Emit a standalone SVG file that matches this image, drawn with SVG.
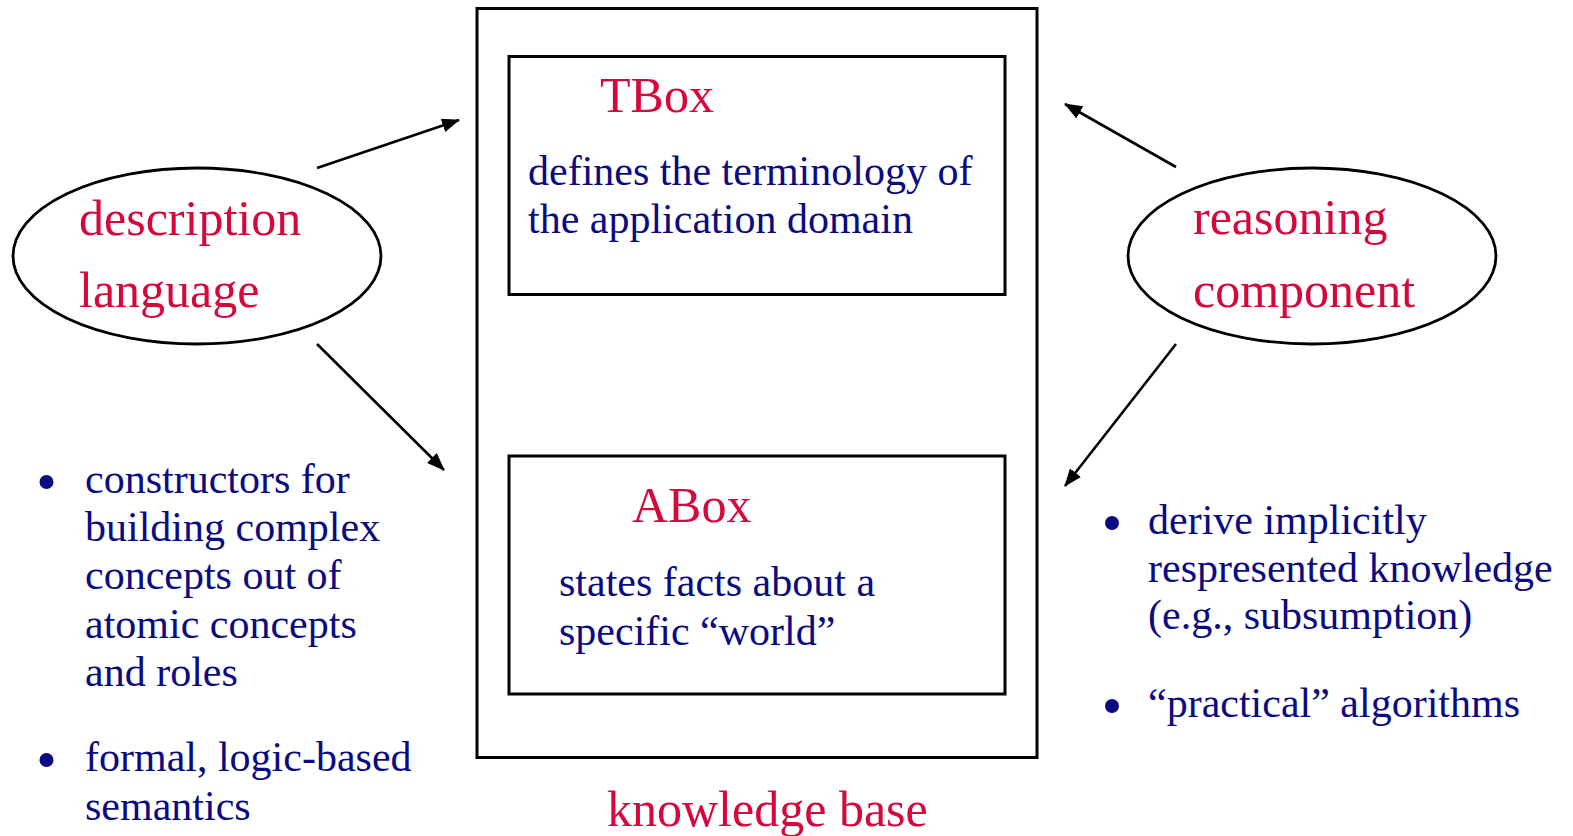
<svg xmlns="http://www.w3.org/2000/svg" width="1573" height="836" viewBox="0 0 1573 836">
<style>
.box{fill:none;stroke:#000;stroke-width:3}
.ell{fill:none;stroke:#000;stroke-width:2.8}
.title{font-family:"Liberation Serif","Times New Roman",serif;font-size:50px;fill:#d5083c}
.body{font-family:"Liberation Serif","Times New Roman",serif;font-size:42px;fill:#0a0a82}
.bul{fill:#0a0a82}
.conn{stroke:#000;stroke-width:2.6;fill:none;marker-end:url(#ah)}
</style>
<defs>
<marker id="ah" markerUnits="userSpaceOnUse" markerWidth="18" markerHeight="14" refX="17" refY="7" orient="auto">
<path d="M0,0 L18,7 L0,14 z" fill="#000"/>
</marker>
</defs>
<rect width="1573" height="836" fill="#fff"/>
<g id="knowledge-base">
<rect class="box" x="477" y="8.5" width="560" height="749"/>
<text class="title" x="607" y="826">knowledge base</text>
</g>
<g id="tbox">
<rect class="box" x="509" y="56.5" width="496" height="238"/>
<text class="title" x="600" y="112">TBox</text>
<text class="body" x="528" y="185">defines the terminology of</text>
<text class="body" x="528" y="233">the application domain</text>
</g>
<g id="abox">
<rect class="box" x="509" y="456" width="496" height="238"/>
<text class="title" x="632" y="522">ABox</text>
<text class="body" x="559" y="596">states facts about a</text>
<text class="body" x="559" y="645">specific “world”</text>
</g>
<g id="description-language">
<ellipse class="ell" cx="197" cy="256" rx="184" ry="88"/>
<text class="title" x="79" y="235">description</text>
<text class="title" x="79" y="307">language</text>
</g>
<g id="reasoning-component">
<ellipse class="ell" cx="1312" cy="256" rx="184" ry="88"/>
<text class="title" x="1193" y="234">reasoning</text>
<text class="title" x="1193" y="307">component</text>
</g>
<g id="dl-bullets">
<circle class="bul" cx="46.5" cy="482" r="7"/>
<text class="body" x="85" y="493">constructors for</text>
<text class="body" x="85" y="541">building complex</text>
<text class="body" x="85" y="589">concepts out of</text>
<text class="body" x="85" y="638">atomic concepts</text>
<text class="body" x="85" y="686">and roles</text>
<circle class="bul" cx="46.5" cy="760" r="7"/>
<text class="body" x="85" y="771">formal, logic-based</text>
<text class="body" x="85" y="820">semantics</text>
</g>
<g id="rc-bullets">
<circle class="bul" cx="1112" cy="523" r="7"/>
<text class="body" x="1148" y="534">derive implicitly</text>
<text class="body" x="1148" y="582">respresented knowledge</text>
<text class="body" x="1148" y="629">(e.g., subsumption)</text>
<circle class="bul" cx="1112" cy="706" r="7"/>
<text class="body" x="1148" y="717">“practical” algorithms</text>
</g>
<g id="connectors">
<line class="conn" x1="317" y1="168" x2="459" y2="120"/>
<line class="conn" x1="317" y1="344" x2="444" y2="470"/>
<line class="conn" x1="1176" y1="167" x2="1065" y2="104"/>
<line class="conn" x1="1176" y1="344" x2="1065" y2="486"/>
</g>
</svg>
